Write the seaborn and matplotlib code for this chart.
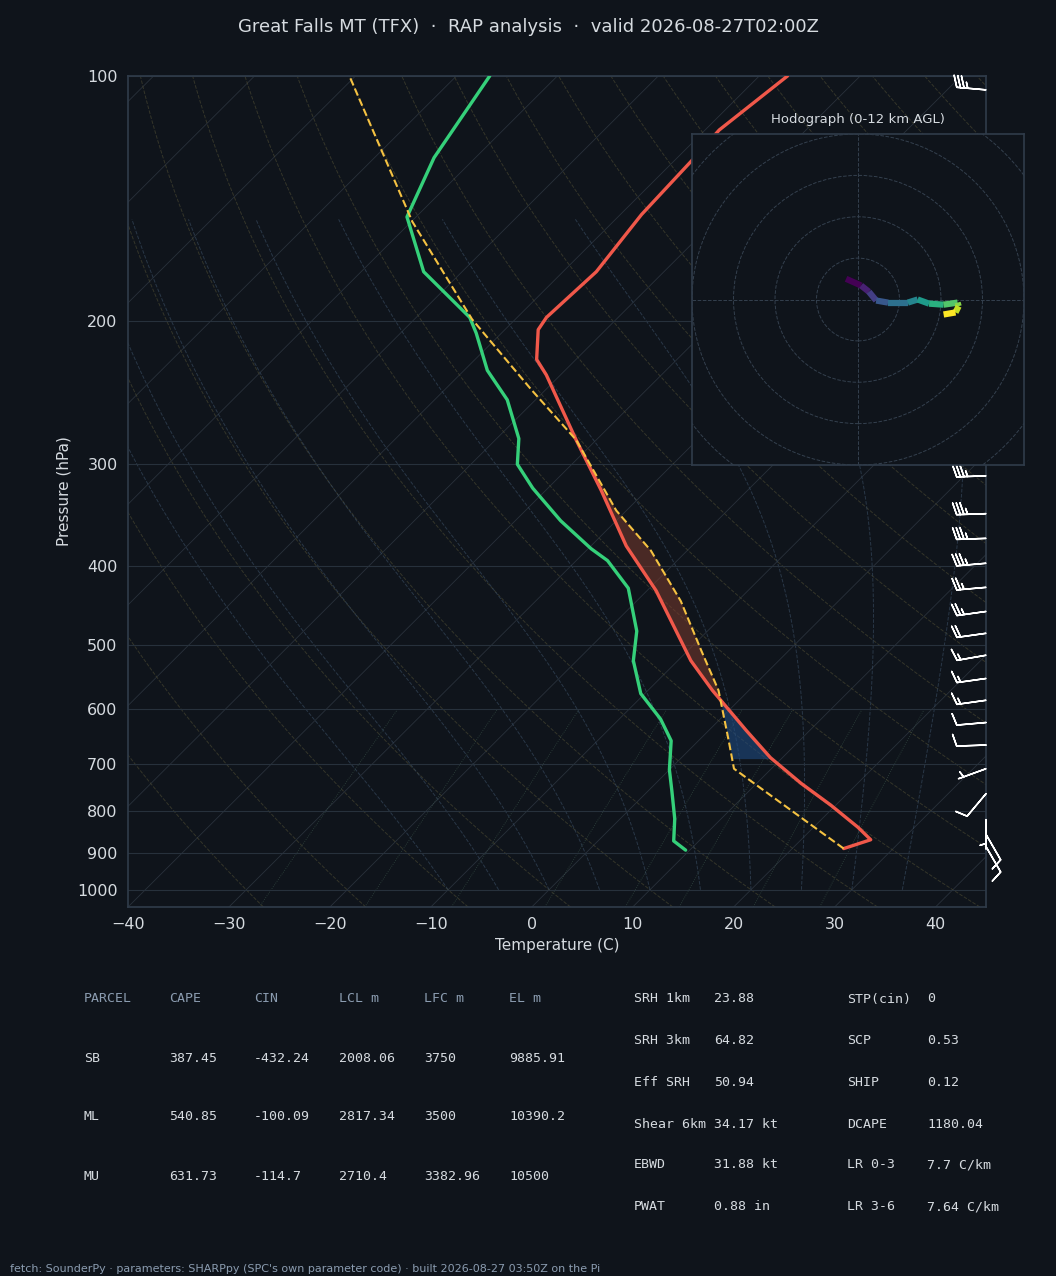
import numpy as np
import pandas as pd
import matplotlib
matplotlib.use("Agg")
import matplotlib.pyplot as plt
import seaborn as sns
from matplotlib.collections import LineCollection

# Sounding values (pressure hPa, temperature C)
temp_p = [868, 838, 787, 740, 688, 637, 569, 523, 429, 378, 323, 280, 233, 223, 205, 198, 174, 148, 126, 116.5, 100]
temp_t = [26.9, 24.4, 19.5, 14.4, 8.8, 3.7, -3.6, -8.7, -19.1, -26.5, -34.5, -42.0, -51.4, -53.9, -56.7, -57.1, -56.7, -57.9, -58.3, -58.6, -57.2]
temp_p0, temp_t0 = 890, 25.1

dew_p = [894, 871, 818, 757, 712, 656, 617, 574, 523, 481, 426, 394, 381, 352, 321, 300, 279, 250, 230, 207, 198, 174, 149, 126, 100]
dew_t = [9.6, 7.5, 5.4, 2.4, 0.0, -2.7, -5.9, -10.4, -14.4, -17.0, -22.1, -26.9, -29.7, -35.5, -41.5, -45.4, -47.8, -52.8, -57.7, -62.5, -64.7, -73.8, -80.9, -84.1, -86.7]

parcel_p = [890, 710, 656, 569, 509, 442, 383, 342, 280, 243, 199, 151, 100]
parcel_t = [25.1, 6.3, 3.0, -3.0, -8.6, -15.6, -23.6, -31.0, -42.0, -51.4, -64.3, -79.9, -100.6]

barb_p = [104, 125, 150, 175, 200, 225, 250, 275, 310, 345, 370, 397, 425, 455, 484, 515, 550, 585, 623, 664, 710, 762, 820, 855, 885]
barb_spd = [35, 35, 40, 40, 40, 35, 35, 35, 35, 35, 35, 35, 25, 25, 20, 15, 15, 15, 10, 10, 5, 10, 5, 10, 10]
barb_dir = [275, 275, 275, 275, 275, 270, 270, 270, 268, 268, 268, 265, 265, 262, 262, 260, 262, 262, 265, 268, 250, 220, 180, 150, 150]

hodo_u = [-2.3, 0.6, 2.1, 3.5, 5.8, 9.6, 11.5, 13.7, 16.5, 19.2, 19.4, 18.8, 16.5]
hodo_v = [4.0, 2.7, 1.5, -0.2, -0.6, -0.6, 0.0, -0.8, -1.0, -0.6, -1.3, -2.5, -2.9]

parcel_head = ["PARCEL", "CAPE", "CIN", "LCL m", "LFC m", "EL m"]
parcel_rows = [["SB", "387.45", "-432.24", "2008.06", "3750", "9885.91"],
               ["ML", "540.85", "-100.09", "2817.34", "3500", "10390.2"],
               ["MU", "631.73", "-114.7", "2710.4", "3382.96", "10500"]]
mid_names = ["SRH 1km", "SRH 3km", "Eff SRH", "Shear 6km", "EBWD", "PWAT"]
mid_vals = ["23.88", "64.82", "50.94", "34.17 kt", "31.88 kt", "0.88 in"]
right_names = ["STP(cin)", "SCP", "SHIP", "DCAPE", "LR 0-3", "LR 3-6"]
right_vals = ["0", "0.53", "0.12", "1180.04", "7.7 C/km", "7.64 C/km"]

BG = "#0f141b"
TXT = "#d6dbe0"
HEAD = "#8b9cb0"
SPINE = "#2f3b49"
SKEW = 35.1
PBOT = 1050.0

sns.set_theme(style="dark")
plt.rcParams.update({"figure.facecolor": BG, "axes.facecolor": BG,
                     "axes.edgecolor": SPINE, "text.color": TXT,
                     "xtick.color": TXT, "ytick.color": TXT, "axes.labelcolor": TXT})
plt.rcParams["font.family"] = ["DejaVu Sans"]


def skx(t, p):
    return np.asarray(t, float) + SKEW * np.log(PBOT / np.asarray(p, float))


fig = plt.figure(figsize=(10.56, 12.76), dpi=100)
W, H = 1056, 1276
ax = fig.add_axes([128 / W, 1 - 907 / H, (986 - 128) / W, (907 - 76) / H])
ax.set_yscale("log")
ax.set_ylim(PBOT, 100)
ax.set_xlim(-40, 45)

# background lines
pp = np.geomspace(PBOT, 100, 200)
for t0 in range(-120, 50, 10):
    ax.plot(skx(np.full_like(pp, t0), pp), pp, color="#3a4450", lw=0.6, alpha=0.6, zorder=1)
for th in range(-30, 200, 10):
    tk = (th + 273.15) * (pp / 1000) ** 0.2857 - 273.15
    ax.plot(skx(tk, pp), pp, color="#4d4b33", lw=0.7, ls="--", alpha=0.6, zorder=1)


def es(t):
    return 6.112 * np.exp(17.67 * t / (t + 243.5))


for t0 in range(-10, 40, 5):
    ps = [1000.0]
    ts = [float(t0)]
    p, T = 1000.0, t0 + 273.15
    while p > 150:
        rs = 0.622 * es(T - 273.15) / (p - es(T - 273.15))
        dT = (287 * T + 2.5e6 * rs) / (1004 + 2.5e6 ** 2 * rs * 0.622 / (287 * T * T)) / p
        p -= 5
        T -= dT * 5
        ps.append(p)
        ts.append(T - 273.15)
    ps = np.array(ps)
    ts = np.array(ts)
    ax.plot(skx(ts, ps), ps, color="#34465a", lw=0.7, ls="--", alpha=0.7, zorder=1)

pm = np.geomspace(PBOT, 600, 50)
for w in [0.4, 1, 2, 4, 7, 10, 16, 24]:
    e = (w / 1000) * pm / (0.622 + w / 1000)
    lnr = np.log(e / 6.112)
    td = 243.5 * lnr / (17.67 - lnr)
    ax.plot(skx(td, pm), pm, color="#3e5a4e", lw=0.6, ls=":", alpha=0.7, zorder=1)

for p in range(100, 1001, 100):
    ax.axhline(p, color="#27313c", lw=0.8, zorder=1)

# profiles
t_df = pd.DataFrame({"p": [temp_p0] + temp_p, "t": [temp_t0] + temp_t})
t_df["x"] = skx(t_df["t"], t_df["p"])
d_df = pd.DataFrame({"p": dew_p, "t": dew_t})
d_df["x"] = skx(d_df["t"], d_df["p"])
pc_df = pd.DataFrame({"p": parcel_p, "t": parcel_t})
pc_df["x"] = skx(pc_df["t"], pc_df["p"])

# CAPE / CIN shading
lp = np.log(np.geomspace(690, 290, 150))
tx = np.interp(lp, np.log(t_df["p"][::-1]), t_df["x"][::-1])
px = np.interp(lp, np.log(pc_df["p"][::-1]), pc_df["x"][::-1])
pg = np.exp(lp)
ax.fill_betweenx(pg, tx, px, where=px > tx, color="#7a3b2e", alpha=0.55, zorder=2, lw=0)
ax.fill_betweenx(pg, tx, px, where=px <= tx, color="#1f4a80", alpha=0.6, zorder=2, lw=0)

sns.lineplot(data=t_df, x="x", y="p", sort=False, color="#f0584a", lw=2.4, ax=ax, zorder=4)
sns.lineplot(data=d_df, x="x", y="p", sort=False, color="#35d07a", lw=2.4, ax=ax, zorder=4)
sns.lineplot(data=pc_df, x="x", y="p", sort=False, color="#f5c242", lw=1.5, ls="--", ax=ax, zorder=4)

# wind barbs along right edge
bd = np.radians(barb_dir)
bu = -np.array(barb_spd) * np.sin(bd)
bv = -np.array(barb_spd) * np.cos(bd)
ax.barbs(np.full(len(barb_p), 45.0), barb_p, bu, bv, color="white", length=6.5,
         linewidth=1.1, clip_on=False, zorder=5)

ax.set_yticks(range(100, 1001, 100))
ax.set_yticklabels([str(p) for p in range(100, 1001, 100)], fontsize=11.5)
ax.yaxis.set_minor_locator(matplotlib.ticker.NullLocator())
ax.set_xticks(range(-40, 41, 10))
ax.set_xticklabels([f"{t}".replace("-", "\u2212") for t in range(-40, 41, 10)], fontsize=11.5)
ax.tick_params(length=4, color=TXT)
ax.set_xlabel("Temperature (C)", fontsize=11)
ax.set_ylabel("Pressure (hPa)", fontsize=11)
ax.grid(False)
for s in ax.spines.values():
    s.set_color(SPINE)

fig.text(0.5, 1 - 27 / H, "Great Falls MT (TFX)  \u00b7  RAP analysis  \u00b7  valid 2026-08-27T02:00Z",
         ha="center", va="center", fontsize=13, color=TXT)

# hodograph inset
hx = fig.add_axes([692 / W, 1 - 465 / H, 332 / W, 331 / H])
hx.set_facecolor(BG)
hx.set_xlim(-32, 32)
hx.set_ylim(-32, 32)
for r in range(8, 60, 8):
    hx.add_patch(plt.Circle((0, 0), r, fill=False, ls="--", lw=0.7, color="#34404e"))
hx.axhline(0, color="#34404e", lw=0.7, ls="--")
hx.axvline(0, color="#34404e", lw=0.7, ls="--")
segs = [[(hodo_u[i], hodo_v[i]), (hodo_u[i + 1], hodo_v[i + 1])] for i in range(len(hodo_u) - 1)]
lc = LineCollection(segs, cmap="viridis", lw=4.5, zorder=3)
lc.set_array(np.arange(len(segs)))
hx.add_collection(lc)
hx.set_xticks(range(-30, 31, 10))
hx.set_yticks(range(-30, 31, 10))
hx.set_xticklabels([])
hx.set_yticklabels([])
hx.tick_params(length=4, color=TXT)
hx.grid(False)
for s in hx.spines.values():
    s.set_color(SPINE)
hx.set_title("Hodograph (0-12 km AGL)", fontsize=9.5, color=TXT, pad=8)

# parameter table
mono = "DejaVu Sans Mono"
cols = [84, 169, 254, 339, 424, 509]
rows = [999, 1058, 1117, 1176]
for c, h in zip(cols, parcel_head):
    fig.text(c / W, 1 - rows[0] / H, h, family=mono, fontsize=9.5, color=HEAD, va="center")
for r, vals in zip(rows[1:], parcel_rows):
    for c, v in zip(cols, vals):
        fig.text(c / W, 1 - r / H, v, family=mono, fontsize=9.5, color=TXT, va="center")
rows2 = [999, 1041, 1082, 1124, 1165, 1207]
for r, n, v, n2, v2 in zip(rows2, mid_names, mid_vals, right_names, right_vals):
    fig.text(634 / W, 1 - r / H, n, family=mono, fontsize=9.5, color=TXT, va="center")
    fig.text(714 / W, 1 - r / H, v, family=mono, fontsize=9.5, color=TXT, va="center")
    fig.text(847 / W, 1 - r / H, n2, family=mono, fontsize=9.5, color=TXT, va="center")
    fig.text(927 / W, 1 - r / H, v2, family=mono, fontsize=9.5, color=TXT, va="center")

fig.text(10 / W, 1 - 1269 / H,
         "fetch: SounderPy \u00b7 parameters: SHARPpy (SPC's own parameter code) \u00b7 built 2026-08-27 03:50Z on the Pi",
         fontsize=8, color="#8b9cb0", va="center")

fig.savefig("out.png", dpi=100, facecolor=BG)
